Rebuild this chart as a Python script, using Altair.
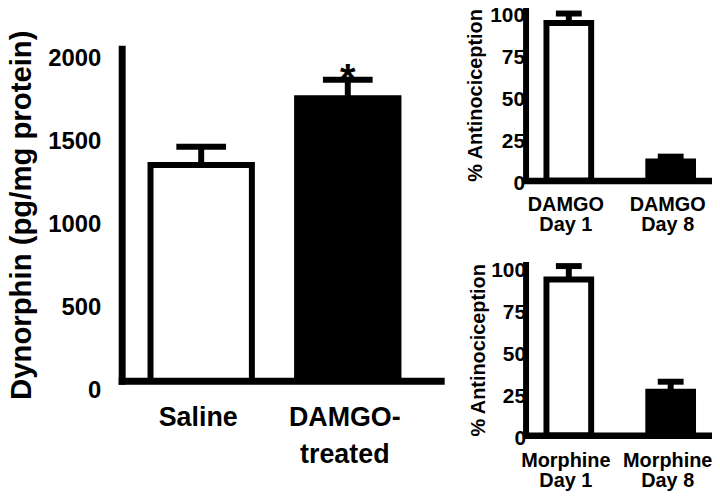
import altair as alt
import pandas as pd

FONT = "Liberation Sans"

# ---- data ----
main_groups = ["Saline", "DAMGO-|treated"]
main_means = [1300, 1702]
main_err_top = [1409, 1813]
main_sig = ["", "*"]

damgo_groups = ["DAMGO|Day 1", "DAMGO|Day 8"]
damgo_means = [94, 11.3]
damgo_err_top = [99.6, 14.2]

morph_groups = ["Morphine|Day 1", "Morphine|Day 8"]
morph_means = [93, 26]
morph_err_top = [101, 32]

main_ticks = [0, 500, 1000, 1500, 2000]
small_ticks = [0, 25, 50, 75, 100]

main_df = pd.DataFrame({"group": main_groups, "mean": main_means,
                        "err": main_err_top, "sig": main_sig})


def main_chart():
    x = alt.X("group:N", sort=main_groups,
              scale=alt.Scale(paddingInner=0, paddingOuter=0.0881, align=0.2404),
              axis=alt.Axis(title=None, labelExpr="split(datum.label, '|')",
                            labelAngle=0, labelFontSize=27, labelFont=FONT,
                            labelFontWeight="bold", labelColor="black",
                            labelPadding=24, labelLineHeight=37, labelOffset=-3,
                            labelBaseline="top",
                            ticks=False, tickSize=0, domainWidth=7,
                            domainColor="black", domainCap="square"))
    yscale = alt.Scale(domain=[0, 2000], nice=False)
    yaxis = alt.Axis(values=main_ticks, format="d", title="Dynorphin (pg/mg protein)",
                     titleFontSize=29.5, titleFont=FONT, titleFontWeight="bold",
                     titleColor="black", titleBaseline="alphabetic", titleX=-92,
                     labelFontSize=24, labelFont=FONT, labelFontWeight="bold",
                     labelColor="black", labelPadding=21, labelOffset=10,
                     ticks=False, tickSize=0, grid=False, domainWidth=7,
                     domainColor="black", domainCap="square")
    base = alt.Chart(main_df)
    bars = base.mark_bar(size=102, stroke="black", strokeWidth=6).encode(
        x=x,
        y=alt.Y("mean:Q", scale=yscale, axis=yaxis),
        color=alt.Color("group:N", scale=alt.Scale(domain=main_groups, range=["white", "black"]), legend=None),
    )
    stem = base.mark_rule(strokeWidth=6, color="black").encode(
        x=alt.X("group:N", sort=main_groups), y="mean:Q", y2="err:Q")
    cap = base.mark_tick(size=50, thickness=6, color="black", opacity=1).encode(
        x=alt.X("group:N", sort=main_groups), y="err:Q")
    star = base.mark_text(fontSize=40, font=FONT, fontWeight="bold", color="black",
                          baseline="alphabetic", dy=12).encode(
        x=alt.X("group:N", sort=main_groups), y="err:Q", text="sig:N")
    return alt.layer(bars, stem, cap, star).properties(width=321, height=334)


def small_chart(groups, means, errs, label_pad, ylabel_pad, title_x):
    df = pd.DataFrame({"group": groups, "mean": means, "err": errs})
    x = alt.X("group:N", sort=groups,
              scale=alt.Scale(paddingInner=0.5, paddingOuter=0.1622, align=0.538),
              axis=alt.Axis(title=None, labelExpr="split(datum.label, '|')",
                            labelAngle=0, labelFontSize=20, labelFont=FONT,
                            labelFontWeight="bold", labelColor="black",
                            labelPadding=label_pad, labelLineHeight=20, labelOffset=-3,
                            labelBaseline="top",
                            ticks=False, tickSize=0, domainWidth=6.5,
                            domainColor="black", domainCap="square"))
    yscale = alt.Scale(domain=[0, 102], nice=False)
    yaxis = alt.Axis(values=small_ticks, title="% Antinociception",
                     titleFontSize=20, titleFont=FONT, titleFontWeight="bold",
                     titleColor="black", titleBaseline="alphabetic", titleX=title_x,
                     labelFontSize=21, labelFont=FONT, labelFontWeight="bold",
                     labelColor="black", labelPadding=ylabel_pad, labelOffset=3,
                     ticks=False, tickSize=0, grid=False, domainWidth=6,
                     domainColor="black", domainCap="square")
    base = alt.Chart(df)
    bars = base.mark_bar(size=45, stroke="black", strokeWidth=6).encode(
        x=x,
        y=alt.Y("mean:Q", scale=yscale, axis=yaxis),
        color=alt.Color("group:N", scale=alt.Scale(domain=groups, range=["white", "black"]), legend=None),
    )
    stem = base.mark_rule(strokeWidth=6, color="black").encode(
        x=alt.X("group:N", sort=groups), y="mean:Q", y2="err:Q")
    cap = base.mark_tick(size=26, thickness=6, color="black", opacity=1).encode(
        x=alt.X("group:N", sort=groups), y="err:Q")
    return alt.layer(bars, stem, cap).properties(width=187, height=172)


spacer = alt.Chart(pd.DataFrame({"a": [0]})).mark_point(opacity=0, size=0).properties(width=321, height=1)

left = alt.vconcat(spacer, main_chart(), spacing=38.5, bounds="flush")
right = alt.vconcat(
    small_chart(damgo_groups, damgo_means, damgo_err_top, 14, 1, -44),
    small_chart(morph_groups, morph_means, morph_err_top, 15, 0, -41.5),
    spacing=84.5, bounds="flush")

chart = alt.hconcat(left, right, spacing=24.4).properties(
    padding={"left": -2.6, "top": -5, "right": 0, "bottom": 0}
).configure(font=FONT, view=alt.ViewConfig(stroke=None)).resolve_scale(color="independent")

chart.save("out.html", embed_options={"renderer": "svg", "actions": False})
